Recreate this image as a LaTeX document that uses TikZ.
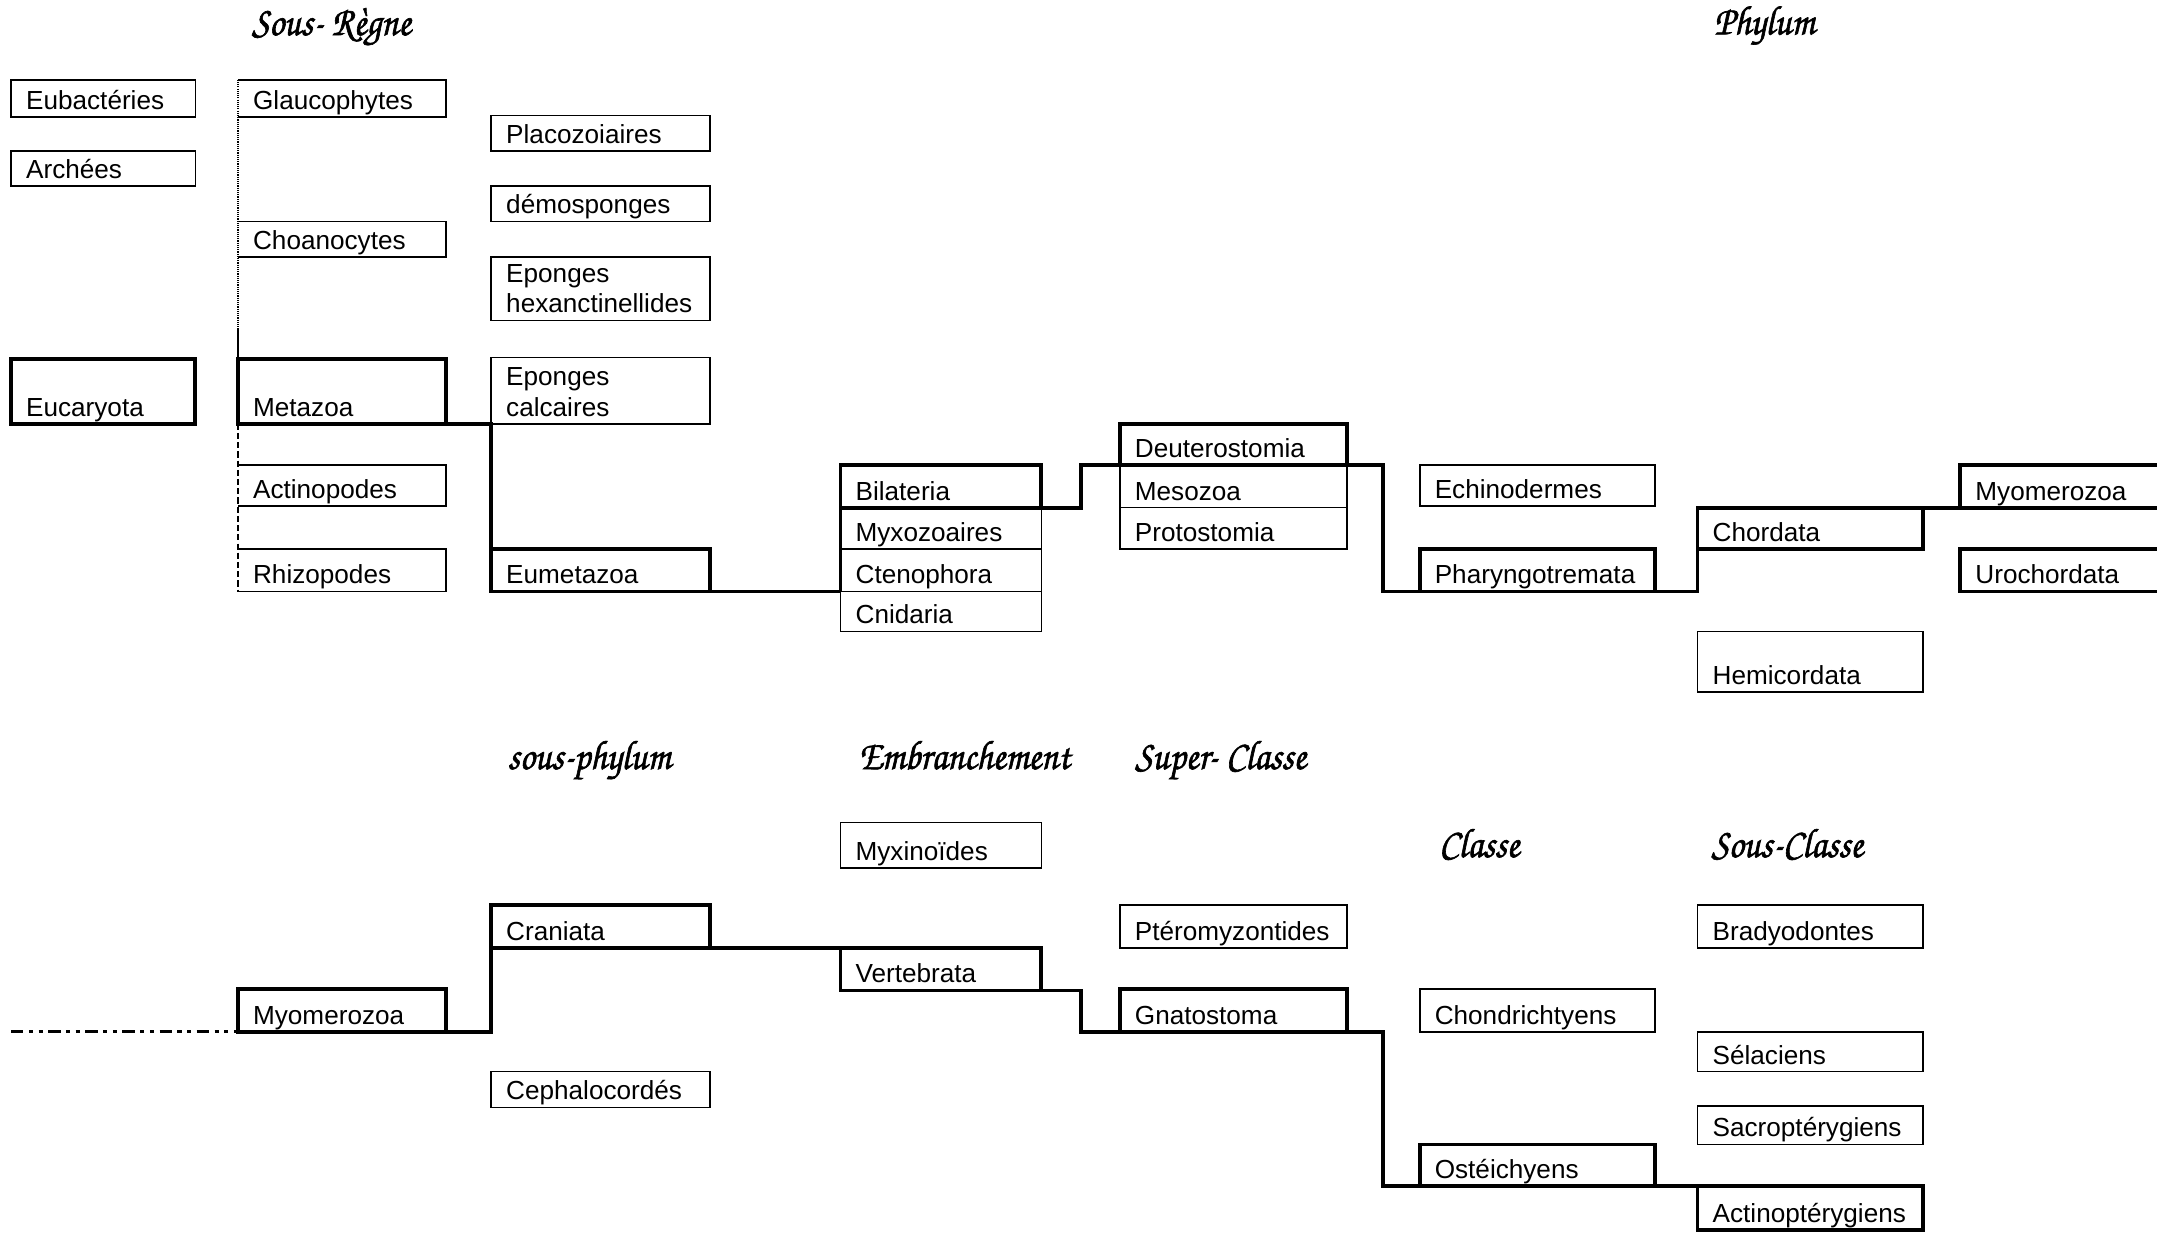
\documentclass[tikz,border=0pt]{standalone}
\usepackage{fontspec}
\setmainfont{Liberation Sans}
\newfontfamily\chorusfont[FakeBold=1.5,FakeStretch=0.9]{TeX Gyre Chorus}
\usetikzlibrary{calc}
\newcommand\ttlfont{\chorusfont\fontsize{30}{34}\selectfont}
\tikzset{
  tbox/.style={draw, line width=1.2pt, inner sep=0pt, outer sep=0pt, anchor=north west, font=\fontsize{19}{22}\selectfont},
  kbox/.style={tbox, line width=2.8pt},
  obox/.style={tbox, draw=none},
  edge1/.style={line width=1.2pt},
  link/.style={line width=2.8pt},
  dotline/.style={line width=0.9pt, dash pattern=on 0.8pt off 0.8pt},
  dashline/.style={line width=1.1pt, dash pattern=on 4.5pt off 2.2pt},
  dashdot/.style={line width=2pt, dash pattern=on 9pt off 4pt on 3pt off 4pt on 3pt off 4pt},
  ttl/.style={anchor=base west, inner sep=0pt, font=\ttlfont},
}
\newcommand\bx[7][tbox]{%
  \pgfmathsetmacro\bw{#5-#3}%
  \pgfmathsetmacro\bh{#6-#4}%
  \node[#1, minimum width=\bw pt, minimum height=\bh pt] (#2) at (#3,#4)
    {\vbox to \bh pt{\hsize=\bw pt\leftskip=11pt\rightskip=0pt plus 1fil\parindent=0pt\vfill\noindent #7\par\vskip-\prevdepth\vskip5.5pt}};%
}
\begin{document}
\begin{tikzpicture}[x=1pt,y=-1pt]
\useasboundingbox (0,0) rectangle (1568,901);
\clip (0,0) rectangle (1568,901);

% titles
\node[ttl] (tSR) at (183,25.5) {Sous- Règne};
\node[ttl] (tPH) at (1246,25) {Phylum};
\node[ttl] (tSP) at (369,559) {sous-phylum};
\node[ttl] (tEM) at (624,559) {Embranchement};
\node[ttl] (tSC) at (825,559) {Super- Classe};
\node[ttl] (tCL) at (1046,623) {Classe};
\node[ttl] (tSCL) at (1244,623) {Sous-Classe};

% column 1
\bx{eubac}{8}{58}{142}{85}{Eubactéries}
\bx{arch}{8}{110}{142}{135}{Archées}
\bx[kbox]{euca}{8}{261}{142}{308}{Eucaryota}
% column 2
\bx[obox]{glauc}{173}{58}{324}{85}{Glaucophytes}
\bx[obox]{choano}{173}{161}{324}{187}{Choanocytes}
\bx[kbox]{metaz}{173}{261}{324}{308}{Metazoa}
\bx[obox]{actino}{173}{338}{324}{368}{Actinopodes}
\bx[obox]{rhizo}{173}{399}{324}{430}{Rhizopodes}
% column 3
\bx{placo}{357}{84}{516}{110}{Placozoiaires}
\bx{demo}{357}{135}{516}{161}{démosponges}
\bx{hexa}{357}{187}{516}{233}{Eponges\newline hexanctinellides}
\bx{calc}{357}{260}{516}{308}{Eponges\newline calcaires}
\bx[kbox]{eumeta}{357}{399}{516}{430}{Eumetazoa}
% column 4
\bx{myxo}{611}{369}{757}{399}{Myxozoaires}
\bx{cteno}{611}{399}{757}{430}{Ctenophora}
\bx{cnid}{611}{430}{757}{459}{Cnidaria}
\bx[kbox]{bilat}{611}{338}{757}{369}{Bilateria}
% column 5
\bx{meso}{814}{338}{979}{369}{Mesozoa}
\bx{proto}{814}{369}{979}{399}{Protostomia}
\bx[kbox]{deut}{814}{308}{979}{338}{Deuterostomia}
% column 6
\bx{echino}{1032}{338}{1203}{368}{Echinodermes}
\bx[kbox]{pharyn}{1032}{399}{1203}{430}{Pharyngotremata}
% column 7
\bx[kbox]{chord}{1234}{369}{1398}{399}{Chordata}
\bx{hemi}{1234}{459}{1398}{503}{Hemicordata}
% column 8
\bx[kbox]{myoA}{1425}{338}{1620}{369}{Myomerozoa}
\bx[kbox]{uro}{1425}{399}{1620}{430}{Urochordata}

% bottom half
\bx[kbox]{myoB}{173}{719}{324}{750}{Myomerozoa}
\bx[kbox]{crani}{357}{658}{516}{689}{Craniata}
\bx{cephal}{357}{779}{516}{805}{Cephalocordés}
\bx{myxin}{611}{598}{757}{631}{Myxinoïdes}
\bx[kbox]{verte}{611}{689}{757}{720}{Vertebrata}
\bx{ptero}{814}{658}{979}{689}{Ptéromyzontides}
\bx[kbox]{gnato}{814}{719}{979}{750}{Gnatostoma}
\bx{chondr}{1032}{719}{1203}{750}{Chondrichtyens}
\bx[kbox]{osteo}{1032}{832}{1203}{862}{Ostéichyens}
\bx{brady}{1234}{658}{1398}{689}{Bradyodontes}
\bx{sela}{1234}{750}{1398}{779}{Sélaciens}
\bx{sacro}{1234}{804}{1398}{832}{Sacroptérygiens}
\bx[kbox]{actinop}{1234}{862}{1398}{894}{Actinoptérygiens}

% open boxes (left side is the dotted / dashed line)
\foreach \n in {glauc,choano,actino,rhizo}
  \draw[edge1] (\n.north west) -- (\n.north east) -- (\n.south east) -- (\n.south west);

% left vertical line of column 2
\coordinate (dotend) at ($(glauc.north west)!0.89!(metaz.north west)$);
\draw[dotline] (glauc.north west) -- (dotend);
\draw[edge1] (dotend) -- (metaz.north west);
\draw[dashline] (metaz.south west) -- (rhizo.south west);

% thick connectors, top half
\draw[link] (metaz.south east) -- (calc.south west) -- (eumeta.north west);
\draw[link] (eumeta.south east) -- (cteno.south west);
\draw[link] (bilat.north west) -- (cteno.south west);
\coordinate (jA) at ($(bilat.south east)!0.5!(meso.south west)$);
\coordinate (jB) at ($(deut.south east)!0.5!(deut.south east -| echino.west)$);
\draw[link] (bilat.south east) -- (jA) |- (deut.south west) -- (deut.south east)
  -- (jB) |- (pharyn.south west);
\draw[link] (pharyn.south east) -| (chord.north west);
\draw[link] (chord.north east) -- (myoA.south west);

% bottom half
\coordinate (dstart) at (8,750);
\draw[dashdot] (dstart) -- (myoB.south west);
\draw[link] (myoB.south east) -| (crani.south west);
\draw[link] (crani.south east) -- (verte.north west);
\coordinate (jC) at ($(verte.south east)!0.5!(verte.south east -| gnato.west)$);
\coordinate (jD) at ($(gnato.south east)!0.5!(gnato.south east -| chondr.west)$);
\draw[link] (verte.south east) -- (jC) |- (gnato.south west) -- (gnato.south east)
  -- (jD) |- (osteo.south west) -- (osteo.south east) -- (actinop.north west);
\end{tikzpicture}
\end{document}
